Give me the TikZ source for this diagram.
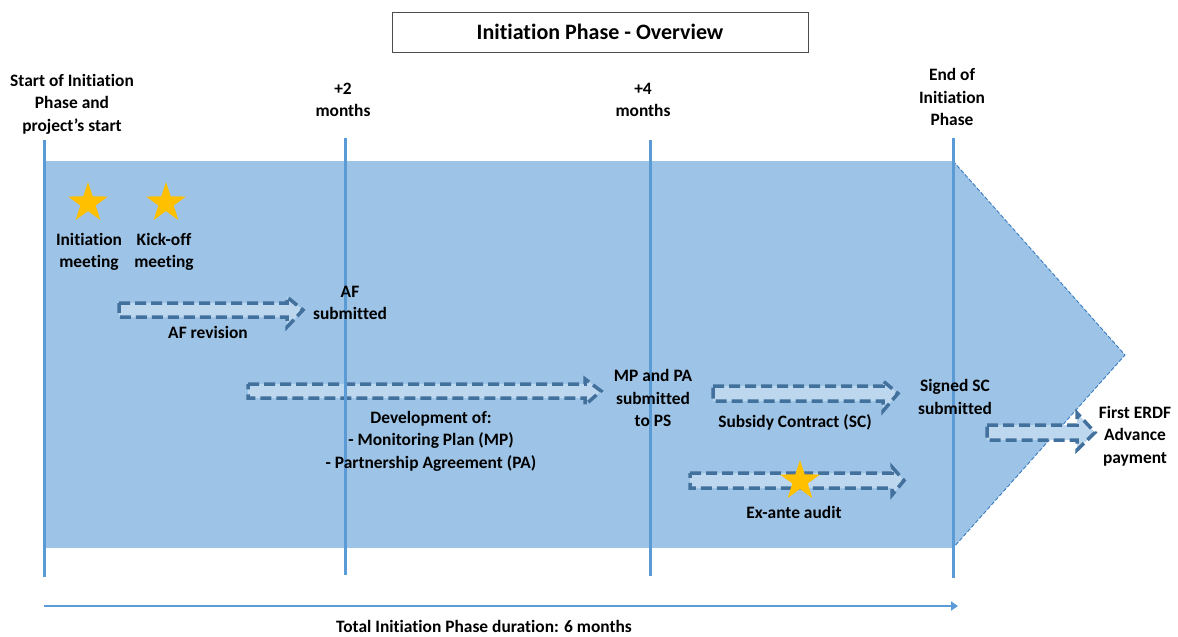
\documentclass[tikz,border=0pt]{standalone}
\usepackage{fontspec}
\setmainfont{Carlito}[Ligatures={NoCommon}]
\usetikzlibrary{shapes.geometric,arrows.meta}
\definecolor{bgblue}{HTML}{9DC3E6}
\definecolor{lineblue}{HTML}{5B9BD5}
\definecolor{arrfill}{HTML}{BDD7EE}
\definecolor{arrline}{HTML}{41719C}
\definecolor{tipline}{HTML}{3A7DC0}
\definecolor{stargold}{HTML}{FFC000}
\newcommand\blockarr[7]{\draw[blockarrow] (#1,#2) -- (#3,#2) -- (#3,#4) -- (#5,{(#2+#6)/2}) -- (#3,#7) -- (#3,#6) -- (#1,#6) -- cycle;}
\begin{document}
\begin{tikzpicture}[x=1pt,y=-1pt,
  lbl/.style={font=\fontsize{17.4}{22.5}\selectfont\bfseries, align=center, inner sep=0pt, text=black},
  blockarrow/.style={draw=arrline, fill=arrfill, line width=3.5pt, dash pattern=on 11pt off 5pt, line join=miter},
  vline/.style={draw=lineblue, line width=3pt},
  goldstar/.style={star, star points=5, star point ratio=2.6, fill=stargold, draw=none, minimum size=42pt, inner sep=0pt}]
\useasboundingbox (0,0) rectangle (1178,637);
\fill[white] (0,0) rectangle (1178,637);
% title
\node[draw=black!70, line width=1pt, minimum width=416pt, minimum height=40pt, inner sep=0pt, font=\fontsize{22}{24}\selectfont\bfseries] (title) at (600,32) {Initiation Phase - Overview};
% background
\fill[bgblue] (44,161) rectangle (953,548);
\fill[bgblue] (953,161) -- (1125,355) -- (953,548) -- cycle;
\draw[tipline, line width=0.9pt, dash pattern=on 4pt off 2pt] (953,161) -- (1125,355) -- (953,548);
% block arrows
\blockarr{119}{303}{287}{297}{303}{317}{327}
\blockarr{248}{384}{585}{379}{601}{398}{405}
\blockarr{713}{386}{883}{381}{898}{401}{411}
\blockarr{690}{473}{892}{467}{904}{488}{495}
\blockarr{987}{425}{1077}{413}{1095}{440}{450}
% vertical lines
\coordinate (v1t) at (44,140); \coordinate (v1b) at (44,577);
\coordinate (v2t) at (345,138); \coordinate (v2b) at (345,575);
\coordinate (v3t) at (650,140); \coordinate (v3b) at (650,576);
\coordinate (v4t) at (953,138); \coordinate (v4b) at (953,578);
\draw[vline] (v1t) -- (v1b);
\draw[vline] (v2t) -- (v2b);
\draw[vline] (v3t) -- (v3b);
\draw[vline] (v4t) -- (v4b);
% stars
\node[goldstar] (s1) at (88,203) {};
\node[goldstar] (s2) at (166,203) {};
\node[goldstar] (s3) at (800,481) {};
% duration arrow
\coordinate (d0) at (44,606);
\coordinate (d1) at (958,606);
\draw[lineblue, line width=2.5pt, -{Triangle[length=7pt,width=9pt]}] (d0) -- (d1);
% labels
\node[lbl] (l0) at (72,104) {Start of Initiation\\Phase and\\project’s start};
\node[lbl] (l2) at (343,100) {+2\\months};
\node[lbl] (l4) at (643,100) {+4\\months};
\node[lbl] (l6) at (952,97) {End of\\Initiation\\Phase};
\node[lbl] (im) at (89,252) {Initiation\\meeting};
\node[lbl] (ko) at (164,252) {Kick-off\\meeting};
\node[lbl] (afs) at (350,303) {AF\\submitted};
\node[lbl] (afr) at (208,332) {AF revision};
\node[lbl] (mp) at (653,398) {MP and PA\\submitted\\to PS};
\node[lbl] (dev) at (431,441) {Development of:\\- Monitoring Plan (MP)\\- Partnership Agreement (PA)};
\node[lbl] (sc) at (795,422) {Subsidy Contract (SC)};
\node[lbl] (ssc) at (955,397) {Signed SC\\submitted};
\node[lbl] (ea) at (794,512) {Ex-ante audit};
\node[lbl] (erdf) at (1135,436) {First ERDF\\Advance\\payment};
\node[lbl] (tot) at (484,626) {Total Initiation Phase duration: 6 months};
\end{tikzpicture}
\end{document}
